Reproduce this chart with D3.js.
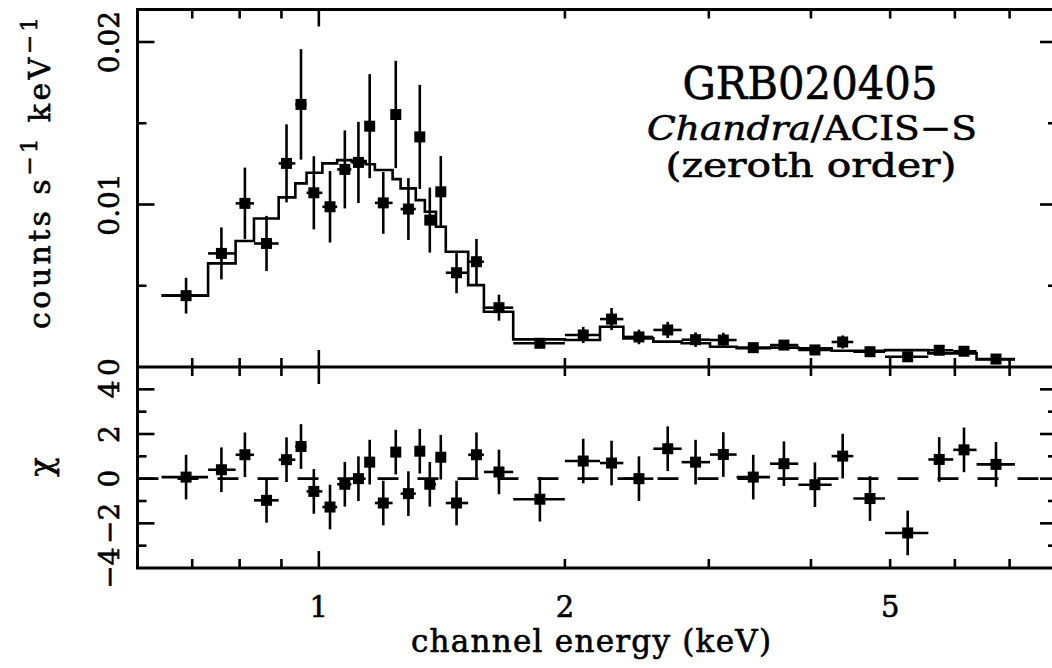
<!DOCTYPE html>
<html><head><meta charset="utf-8">
<script src="https://cdn.jsdelivr.net/npm/d3@7"></script>
<style>html,body{margin:0;padding:0;background:#fff;} svg{display:block;} text{stroke:#000;stroke-width:0.6px;}</style>
</head><body><svg id="c" width="1052" height="668"></svg>
<script>
// ---- data ----
const binEdges = [0.642,0.732,0.791,0.833,0.893,0.936,0.966,1.010,1.053,1.096,1.141,1.171,1.231,1.259,1.314,1.348,1.391,1.430,1.523,1.592,1.729,2.000,2.208,2.358,2.566,2.779,3.010,3.244,3.564,3.860,4.240,4.507,4.928,5.568,5.973,6.378,7.107];
const energy = [0.688,0.760,0.812,0.863,0.913,0.951,0.986,1.032,1.076,1.118,1.154,1.199,1.242,1.287,1.329,1.367,1.410,1.474,1.559,1.661,1.864,2.106,2.281,2.464,2.672,2.890,3.125,3.400,3.707,4.045,4.374,4.724,5.253,5.741,6.156,6.737];
const counts = [0.00439,0.00699,0.01007,0.00760,0.01253,0.01616,0.01072,0.00986,0.01216,0.01259,0.01482,0.01010,0.01554,0.00972,0.01416,0.00904,0.01078,0.00580,0.00648,0.00365,0.00146,0.00197,0.00295,0.00185,0.00228,0.00168,0.00166,0.00119,0.00135,0.00105,0.00154,0.00094,0.00063,0.00103,0.00097,0.00049];
const countErr = [0.0011,0.0016,0.0022,0.0017,0.0024,0.0034,0.00225,0.0022,0.0024,0.0025,0.0032,0.0019,0.0033,0.0019,0.0032,0.0020,0.0022,0.00126,0.0014,0.0008,0.0003,0.0005,0.00068,0.00045,0.0005,0.00045,0.00045,0.0003,0.0003,0.0003,0.0004,0.0003,0.00017,0.0003,0.0003,0.0002];
const model = [0.00439,0.00638,0.00775,0.00914,0.01044,0.01130,0.01195,0.01253,0.01273,0.01267,0.01248,0.01212,0.01156,0.01099,0.01027,0.00955,0.00863,0.00709,0.00504,0.00340,0.00170,0.00166,0.00248,0.00176,0.00156,0.00146,0.00125,0.00115,0.00119,0.00115,0.00100,0.00100,0.00104,0.00084,0.00084,0.00047];
const chi = [0.07,0.40,1.07,-0.97,0.85,1.44,-0.57,-1.27,-0.25,0.00,0.74,-1.09,1.19,-0.67,1.23,-0.25,0.96,-1.09,1.07,0.30,-0.92,0.79,0.70,0.00,1.34,0.74,1.08,0.07,0.67,-0.27,1.01,-0.89,-2.43,0.86,1.29,0.64];
const CHI_ERR = 1;

const xTicks = [0.7,0.8,0.9,1,2,3,4,5,6,7];
const xMajor = [1];
const xLabels = [1,2,5];
const yTopTicks = [0.005,0.01,0.015,0.02];
const yTopMajor = [0.01,0.02];
const yTopLabels = [[0,"0"],[0.01,"0.01"],[0.02,"0.02"]];
const chiTicks = [-3,-2,-1,0,1,2,3,4];
const chiLabels = [[-4,"\u22124"],[-2,"\u22122"],[0,"0"],[2,"2"],[4,"4"]];

// ---- layout ----
const L=137.5, R=1057, T=9.5, MID=367, B=568;
const FONT = "'DejaVu Serif', serif";
const LW = 2.6;
const svg = d3.select("#c");

const x = d3.scaleLog().domain([0.6,8]).range([L,R]);
const yTop = d3.scaleLinear().domain([0,0.022]).range([MID,T]);
const yChi = d3.scaleLinear().domain([-4,5]).range([B,MID]);

const bins = energy.map((e,i)=>({e, lo:binEdges[i], hi:binEdges[i+1], c:counts[i], err:countErr[i], m:model[i], chi:chi[i]}));

// model step line (top)
let stepPts = [];
bins.forEach(b=>{ stepPts.push([x(b.lo), yTop(b.m)]); stepPts.push([x(b.hi), yTop(b.m)]); });
svg.append("path").attr("d", d3.line()(stepPts)).attr("fill","none").attr("stroke","#000").attr("stroke-width",LW);

// zero line in chi panel (dashed)
svg.append("line").attr("x1",L).attr("x2",R).attr("y1",yChi(0)).attr("y2",yChi(0))
  .attr("stroke","#000").attr("stroke-width",LW).attr("stroke-dasharray","21,19");

function drawPoints(yf, getV, getE){
  const g = svg.append("g").attr("stroke","#000").attr("stroke-width",LW);
  bins.forEach(b=>{
    const v=getV(b), e=getE(b);
    g.append("line").attr("x1",x(b.lo)).attr("x2",x(b.hi)).attr("y1",yf(v)).attr("y2",yf(v));
    g.append("line").attr("x1",x(b.e)).attr("x2",x(b.e)).attr("y1",yf(v-e)).attr("y2",yf(v+e));
  });
  const s=11;
  svg.append("g").selectAll("rect").data(bins).join("rect")
    .attr("x",b=>x(b.e)-s/2).attr("y",b=>yf(getV(b))-s/2).attr("width",s).attr("height",s).attr("fill","#000");
}
drawPoints(yTop, b=>b.c, b=>b.err);
drawPoints(yChi, b=>b.chi, b=>CHI_ERR);

// frame
const fr = svg.append("g").attr("stroke","#000").attr("stroke-width",3).attr("fill","none");
fr.append("rect").attr("x",L).attr("y",T).attr("width",R-L).attr("height",B-T);
fr.append("line").attr("x1",L).attr("x2",R).attr("y1",MID).attr("y2",MID);

// ticks
const tk = svg.append("g").attr("stroke","#000").attr("stroke-width",2.6);
const MAJ=17, MIN=9;
xTicks.forEach(v=>{
  const len = xMajor.includes(v)?MAJ:MIN, px=x(v);
  [[T,1],[MID,-1],[MID,1],[B,-1]].forEach(([y0,dir])=>{
    tk.append("line").attr("x1",px).attr("x2",px).attr("y1",y0).attr("y2",y0+dir*len);
  });
});
yTopTicks.forEach(v=>{
  const len = yTopMajor.includes(v)?MAJ:MIN, py=yTop(v);
  tk.append("line").attr("x1",L).attr("x2",L+len).attr("y1",py).attr("y2",py);
  tk.append("line").attr("x1",R).attr("x2",R-len).attr("y1",py).attr("y2",py);
});
chiTicks.forEach(v=>{
  const len = (v%2===0)?MAJ:MIN, py=yChi(v);
  tk.append("line").attr("x1",L).attr("x2",L+len).attr("y1",py).attr("y2",py);
  tk.append("line").attr("x1",R).attr("x2",R-len).attr("y1",py).attr("y2",py);
});

// tick labels
const TS = 28;
xLabels.forEach(v=>{
  svg.append("text").attr("x",x(v)).attr("y",617).attr("text-anchor","middle")
    .attr("font-family",FONT).attr("font-size",TS+1).text(String(v));
});
function ylab(py, txt){
  svg.append("text").attr("transform",`translate(119,${py}) rotate(-90)`).attr("text-anchor","middle")
    .attr("font-family",FONT).attr("font-size",TS).text(txt);
}
yTopLabels.forEach(([v,t])=>ylab(yTop(v),t));
chiLabels.forEach(([v,t])=>ylab(yChi(v),t));

// axis titles
svg.append("text").attr("x",591).attr("y",652).attr("text-anchor","middle")
  .attr("font-family",FONT).attr("font-size",31).attr("textLength",360).attr("lengthAdjust","spacing")
  .text("channel energy (keV)");

const yl = svg.append("text").attr("transform","translate(50,173) rotate(-90)").attr("text-anchor","middle")
  .attr("font-family",FONT).attr("font-size",30).attr("textLength",312).attr("lengthAdjust","spacing");
yl.append("tspan").text("counts s");
yl.append("tspan").attr("dy",-13).attr("font-size",23).text("\u22121");
yl.append("tspan").attr("dy",13).text(" keV");
yl.append("tspan").attr("dy",-13).attr("font-size",23).text("\u22121");

svg.append("text").attr("transform","translate(52,467) rotate(-90)").attr("text-anchor","middle")
  .attr("font-family",FONT).attr("font-size",32).text("\u03C7");

// annotation
svg.append("text").attr("x",810).attr("y",99).attr("text-anchor","middle")
  .attr("font-family",FONT).attr("font-size",44).attr("textLength",255).attr("lengthAdjust","spacingAndGlyphs").text("GRB020405");
const t2 = svg.append("text").attr("x",812).attr("y",140).attr("text-anchor","middle")
  .attr("font-family",FONT).attr("font-size",34).attr("textLength",330).attr("lengthAdjust","spacingAndGlyphs");
t2.append("tspan").attr("font-style","italic").text("Chandra");
t2.append("tspan").text("/ACIS\u2212S");
svg.append("text").attr("x",811).attr("y",177).attr("text-anchor","middle")
  .attr("font-family",FONT).attr("font-size",34).attr("textLength",291).attr("lengthAdjust","spacingAndGlyphs").text("(zeroth order)");
</script></body></html>
